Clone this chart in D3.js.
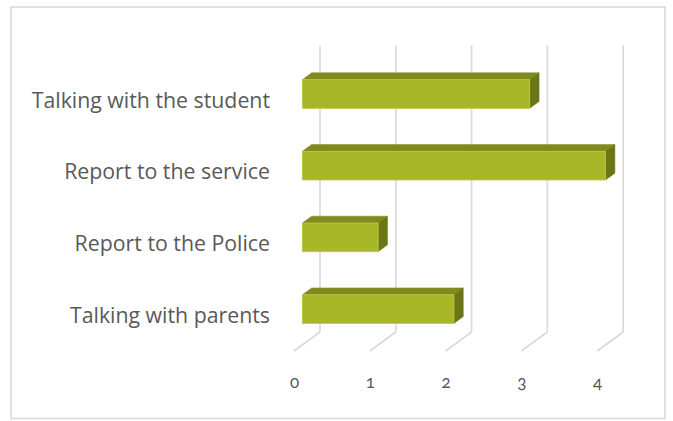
<!DOCTYPE html>
<html><head><meta charset="utf-8">
<script src="https://cdn.jsdelivr.net/npm/d3@7"></script>
<style>body{margin:0;background:#fff}svg{display:block}</style>
</head><body>
<svg id="c" width="673" height="421"></svg>
<script>
const categories = ["Talking with the student","Report to the service","Report to the Police","Talking with parents"];
const values = [3,4,1,2];
const tickValues = [0,1,2,3,4];

const svg = d3.select("#c");
const W = 673, H = 421;
svg.append("rect").attr("x",0).attr("y",0).attr("width",W).attr("height",H).attr("fill","#fff");
svg.append("rect").attr("x",11).attr("y",7).attr("width",654).attr("height",411.5)
  .attr("fill","#fff").attr("stroke","#d9d9d9").attr("stroke-width",1.6);

const DX = 26, DY = -19, Z1 = 0.32, Z2 = 0.68;
const x = d3.scaleLinear().domain([0,4]).range([294, 294 + 4*75.8]);
const y = d3.scaleBand().domain(categories).range([64.2, 351]).paddingInner(0.6).paddingOuter(0.3);
const floorY = 351, topY = 64.2;

// gridlines on back wall + floor diagonals
const grid = svg.append("g").attr("stroke","#d9d9d9").attr("stroke-width",1.6).attr("fill","none");
tickValues.forEach(t => {
  grid.append("line").attr("x1", x(t)+DX).attr("x2", x(t)+DX).attr("y1", topY+DY).attr("y2", floorY+DY);
  grid.append("line").attr("x1", x(t)).attr("x2", x(t)+DX).attr("y1", floorY).attr("y2", floorY+DY);
});

// bars
const data = categories.map((c,i)=>({c, v: values[i]}));
const bars = svg.append("g");
data.forEach(d => {
  const x0 = x(0), x1 = x(d.v);
  const yt = y(d.c), yb = y(d.c) + y.bandwidth();
  const fx = Z1*DX, fy = Z1*DY, bx = Z2*DX, by = Z2*DY;
  bars.append("path").attr("d", `M${x0+fx},${yt+fy} L${x1+fx},${yt+fy} L${x1+bx},${yt+by} L${x0+bx},${yt+by} Z`)
    .attr("fill","#7f8b1c").attr("stroke","#7f8b1c").attr("stroke-width",0.5);
  bars.append("path").attr("d", `M${x1+fx},${yt+fy} L${x1+bx},${yt+by} L${x1+bx},${yb+by} L${x1+fx},${yb+fy} Z`)
    .attr("fill","#6b7716").attr("stroke","#6b7716").attr("stroke-width",0.5);
  bars.append("rect").attr("x", x0+fx).attr("y", yt+fy).attr("width", x1-x0).attr("height", yb-yt)
    .attr("fill","#a8b727").attr("stroke","#b9c84a").attr("stroke-width",0.8);
});

// category axis
const ay = svg.append("g").attr("transform", `translate(270,0)`).call(d3.axisLeft(y).tickSize(0).tickPadding(0));
ay.select(".domain").remove();
ay.selectAll("text").attr("fill","#595959").attr("font-family","'Open Sans', sans-serif").attr("font-size","21.3px")
  .attr("dy","0.35em");

// value axis
const ax = svg.append("g").attr("transform", `translate(0,383)`)
  .call(d3.axisBottom(x).tickValues(tickValues).tickFormat(d3.format("d")).tickSize(0).tickPadding(0));
ax.select(".domain").remove();
ax.selectAll("text").attr("y",0).attr("dy","0.32em").attr("fill","#595959")
  .attr("font-family","Lato, 'Open Sans', sans-serif").attr("font-size","17px")
  .style("font-variant-numeric","oldstyle-nums");
</script>
</body></html>
